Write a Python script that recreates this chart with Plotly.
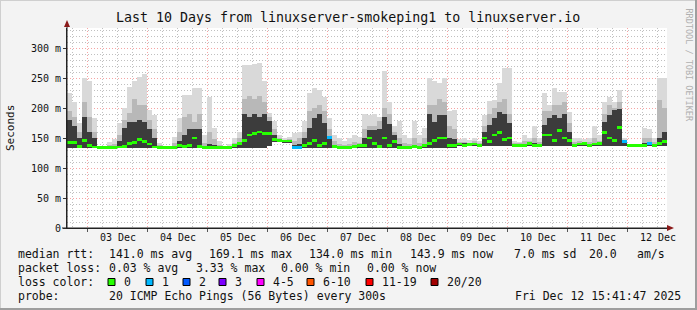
import plotly.graph_objects as go

# ---------------- data ----------------
start_h = 15.7   # left edge: hours after 02 Dec 00:00 (02 Dec 15:41)
bin_h = 2.0      # each smoke column covers 2 hours

smoke_min = [134]*78 + [137]*42
smoke_min[40] = 137
for _i in (41, 42, 43, 44):
    smoke_min[_i] = 143

smoke_max = [225, 210, 175, 250, 245, 183, 136, 136, 143, 148,
             175, 200, 235, 245, 252, 257, 197, 188, 142, 136,
             137, 151, 183, 222, 222, 233, 233, 155, 219, 166,
             145, 136, 140, 150, 160, 272, 272, 273, 275, 245,
             192, 178, 155, 150, 152, 158, 160, 178, 225, 233,
             230, 219, 183, 155, 150, 145, 150, 155, 152, 190,
             188, 190, 185, 261, 210, 170, 178, 155, 150, 178,
             155, 166, 250, 245, 241, 250, 195, 197, 148, 150,
             146, 150, 145, 188, 211, 214, 241, 266, 266, 145,
             143, 155, 150, 170, 150, 225, 205, 233, 227, 227,
             194, 150, 150, 148, 150, 170, 155, 210, 219, 210,
             230, 150, 140, 140, 140, 166, 165, 150, 250, 250]

smoke_mid = [195, 185, 160, 210, 185, 160, 135, 135, 138, 140,
             155, 180, 191, 215, 205, 205, 180, 165, 138, 135,
             135, 142, 160, 185, 190, 177, 190, 142, 160, 148,
             138, 135, 136, 142, 150, 215, 220, 215, 220, 210,
             185, 165, 150, 147, 148, 145, 150, 160, 195, 200,
             205, 195, 165, 145, 140, 138, 140, 143, 142, 165,
             170, 170, 178, 200, 190, 160, 150, 142, 140, 150,
             142, 150, 205, 205, 215, 210, 170, 165, 144, 144,
             142, 145, 142, 170, 190, 200, 210, 215, 190, 142,
             141, 145, 145, 150, 144, 195, 195, 205, 205, 210,
             175, 144, 145, 143, 144, 150, 145, 190, 205, 200,
             210, 145, 139, 139, 139, 150, 150, 144, 214, 200]

smoke_dark = [180, 170, 150, 185, 160, 150, 134, 134, 134, 135,
              145, 166, 177, 177, 180, 177, 165, 150, 134, 134,
              134, 136, 145, 155, 165, 165, 165, 136, 140, 138,
              134, 134, 134, 136, 140, 190, 185, 190, 185, 190,
              178, 155, 147, 145, 145, 138, 140, 150, 167, 183,
              190, 175, 150, 138, 135, 134, 135, 136, 136, 150,
              163, 163, 165, 185, 173, 155, 140, 136, 135, 138,
              136, 140, 190, 177, 188, 188, 150, 148, 141, 141,
              140, 141, 140, 160, 172, 183, 194, 190, 175, 139,
              139, 140, 141, 142, 140, 172, 183, 188, 183, 190,
              160, 140, 141, 140, 140, 142, 141, 177, 188, 196,
              199, 143, 138, 138, 138, 142, 142, 140, 150, 160]

median_rtt = [143, 142, 136, 146, 137, 135, 134, 134, 134, 134,
              135, 136, 141, 143, 148, 144, 140, 135, 134, 134,
              134, 134, 138, 136, 137, 150, 136, 134, 134, 134,
              134, 134, 134, 137, 141, 146, 155, 157, 160, 158,
              158, 147, 146, 145, 145, 134, 134, 138, 141, 146,
              138, 141, 151, 136, 134, 134, 134, 136, 138, 138,
              150, 141, 136, 150, 137, 144, 134, 134, 134, 136,
              134, 138, 141, 146, 150, 150, 138, 138, 140, 138,
              139, 140, 138, 150, 144, 155, 159, 148, 150, 138,
              138, 138, 141, 138, 138, 155, 155, 146, 162, 150,
              146, 138, 140, 141, 138, 140, 141, 159, 150, 146,
              167, 144, 138, 138, 138, 138, 141, 138, 141, 144]

loss_pings = [0]*120
for _i in (45, 46, 52, 111, 116):
    loss_pings[_i] = 1

midnights = [24, 48, 72, 96, 120, 144, 168, 192, 216, 240]
day_noons = [36, 60, 84, 108, 132, 156, 180, 204, 228, 252]
day_labels = ["03 Dec", "04 Dec", "05 Dec", "06 Dec", "07 Dec",
              "08 Dec", "09 Dec", "10 Dec", "11 Dec", "12 Dec"]
y_tickvals = [0, 50, 100, 150, 200, 250, 300]
y_ticktext = ["0", "50 m", "100 m", "150 m", "200 m", "250 m", "300 m"]

loss_legend_labels = ["0", "1", "2", "3", "4-5", "6-10", "11-19", "20/20"]
loss_legend_colors = ["#26ff00", "#00b8ff", "#0059ff", "#7e00ff",
                      "#ff00ff", "#ff5500", "#ff0000", "#a10000"]

title = "Last 10 Days from linuxserver-smokeping1 to linuxserver.io"
rtt_row = [("median rtt:", 16), ("141.0 ms avg", 107), ("169.1 ms max", 207),
           ("134.0 ms min", 307), ("143.9 ms now", 408), ("7.0 ms sd", 512),
           ("20.0", 587), ("am/s", 635)]
loss_row = [("packet loss:", 16), ("0.03 % avg", 107), ("3.33 % max", 194),
            ("0.00 % min", 279), ("0.00 % now", 365)]
probe_row = [("probe:", 16), ("20 ICMP Echo Pings (56 Bytes) every 300s", 107),
             ("Fri Dec 12 15:41:47 2025", 513)]

# ---------------- layout geometry ----------------
W, H = 697, 310
L, R, T, B = 67, 667, 28, 228
FONT = "DejaVu Sans Mono"


def px(x):
    return (x - L) / (R - L)


def py(y):
    return (B - y) / (B - T)


n = len(median_rtt)
xc = [start_h + bin_h * (i + 0.5) for i in range(n)]

fig = go.Figure()
for top, col in ((smoke_max, "#d9d9d9"), (smoke_mid, "#b8b8b8"), (smoke_dark, "#3c3c3c")):
    fig.add_trace(go.Bar(
        x=xc, y=[t - m for t, m in zip(top, smoke_min)], base=smoke_min,
        width=bin_h, marker=dict(color=col, line=dict(width=0)),
        showlegend=False, hoverinfo="skip"))

loss_map = {0: loss_legend_colors[0], 1: loss_legend_colors[1], 2: loss_legend_colors[2]}
fig.add_trace(go.Bar(
    x=xc, y=[4.5] * n, base=[m - 2.25 for m in median_rtt], width=bin_h,
    marker=dict(color=[loss_map[l] for l in loss_pings], line=dict(width=0)),
    showlegend=False, hoverinfo="skip"))

x_minor = [h for h in range(18, 256, 6) if h % 24 != 0]
y_minor = [v for v in range(10, 340, 10) if v % 50 != 0]

fig.update_layout(
    width=W, height=H,
    margin=dict(l=L, r=W - R, t=T, b=H - B, pad=0),
    paper_bgcolor="#f3f3f3", plot_bgcolor="#ffffff",
    barmode="overlay", bargap=0, showlegend=False,
    font=dict(family=FONT, size=10, color="#000000"),
    xaxis=dict(range=[start_h, start_h + 240], tickmode="array", tickvals=midnights,
               showticklabels=False, ticks="outside", ticklen=3, tickcolor="#555",
               showgrid=True, gridcolor="rgba(240,90,90,0.55)", griddash="1px,2px",
               gridwidth=1, zeroline=False, showline=True, linecolor="#222", linewidth=1,
               minor=dict(tickmode="array", tickvals=x_minor, showgrid=True,
                          gridcolor="rgba(150,150,150,0.6)", griddash="1px,2px",
                          ticks="")),
    yaxis=dict(range=[0, 333.33], tickmode="array", tickvals=y_tickvals,
               ticktext=y_ticktext, ticks="outside", ticklen=3, tickcolor="#333",
               tickfont=dict(family=FONT, size=10, color="#111"),
               showgrid=True, gridcolor="rgba(240,90,90,0.55)", griddash="1px,2px",
               zeroline=False, showline=True, linecolor="#222", linewidth=1,
               minor=dict(tickmode="array", tickvals=y_minor, showgrid=True,
                          gridcolor="rgba(150,150,150,0.6)", griddash="1px,2px",
                          ticks="")),
)

ann = []
# day labels at noon
for h, lab in zip(day_noons, day_labels):
    ann.append(dict(x=h, xref="x", y=py(237), yref="paper", text=lab, showarrow=False,
                    xanchor="center", yanchor="middle",
                    font=dict(family=FONT, size=10, color="#111")))
# title
ann.append(dict(x=px(348), xref="paper", y=py(18), yref="paper", text=title,
                showarrow=False, xanchor="center", yanchor="middle",
                font=dict(family=FONT, size=13.3, color="#111")))
# y title
ann.append(dict(x=px(10), xref="paper", y=py(128), yref="paper", text="Seconds",
                showarrow=False, textangle=-90, xanchor="center", yanchor="middle",
                font=dict(family=FONT, size=11, color="#111")))
# watermark
ann.append(dict(x=px(688), xref="paper", y=py(6), yref="paper", text="RRDTOOL / TOBI OETIKER",
                showarrow=False, textangle=90, xanchor="center", yanchor="top",
                font=dict(family=FONT, size=8.5, color="#b0b0b0")))
# legend rows
for row, yy in ((rtt_row, 254), (loss_row, 268), (probe_row, 296)):
    for txt, xx in row:
        ann.append(dict(x=px(xx), xref="paper", y=py(yy), yref="paper", text=txt,
                        showarrow=False, xanchor="left", yanchor="middle",
                        font=dict(family=FONT, size=11.5, color="#111")))
ann.append(dict(x=px(16), xref="paper", y=py(282), yref="paper", text="loss color:",
                showarrow=False, xanchor="left", yanchor="middle",
                font=dict(family=FONT, size=11.5, color="#111")))

sq_x = [108, 146, 183, 219, 257, 307, 366, 431]
shapes = []
for sx, lab, col in zip(sq_x, loss_legend_labels, loss_legend_colors):
    shapes.append(dict(type="rect", xref="paper", yref="paper",
                       x0=px(sx), x1=px(sx + 7), y0=py(285.5), y1=py(278.5),
                       fillcolor=col, line=dict(color="#000", width=1)))
    ann.append(dict(x=px(sx + 14), xref="paper", y=py(282), yref="paper", text=lab,
                    showarrow=False, xanchor="left", yanchor="middle",
                    font=dict(family=FONT, size=11.5, color="#111")))

# axis extensions and arrows
shapes.append(dict(type="line", xref="paper", yref="paper", x0=px(67), x1=px(67),
                   y0=py(228), y1=py(24), line=dict(color="#222", width=1)))
shapes.append(dict(type="line", xref="paper", yref="paper", x0=px(62), x1=px(670),
                   y0=py(228), y1=py(228), line=dict(color="#222", width=1)))
shapes.append(dict(type="path", xref="paper", yref="paper",
                   path=f"M {px(64)} {py(27)} L {px(70)} {py(27)} L {px(67)} {py(20)} Z",
                   fillcolor="#8b1a1a", line=dict(color="#8b1a1a", width=0)))
shapes.append(dict(type="path", xref="paper", yref="paper",
                   path=f"M {px(667)} {py(225)} L {px(667)} {py(231)} L {px(674)} {py(228)} Z",
                   fillcolor="#8b1a1a", line=dict(color="#8b1a1a", width=0)))
# frame (light top/left, dark bottom/right)
shapes.append(dict(type="line", xref="paper", yref="paper", x0=px(0), x1=px(697),
                   y0=py(0.5), y1=py(0.5), line=dict(color="#cfcfcf", width=1)))
shapes.append(dict(type="line", xref="paper", yref="paper", x0=px(0.5), x1=px(0.5),
                   y0=py(0), y1=py(310), line=dict(color="#cfcfcf", width=1)))
shapes.append(dict(type="line", xref="paper", yref="paper", x0=px(0), x1=px(697),
                   y0=py(309), y1=py(309), line=dict(color="#9e9e9e", width=2)))
shapes.append(dict(type="line", xref="paper", yref="paper", x0=px(696), x1=px(696),
                   y0=py(0), y1=py(310), line=dict(color="#9e9e9e", width=2)))

fig.update_layout(annotations=ann, shapes=shapes)
fig.write_html("out.html")
